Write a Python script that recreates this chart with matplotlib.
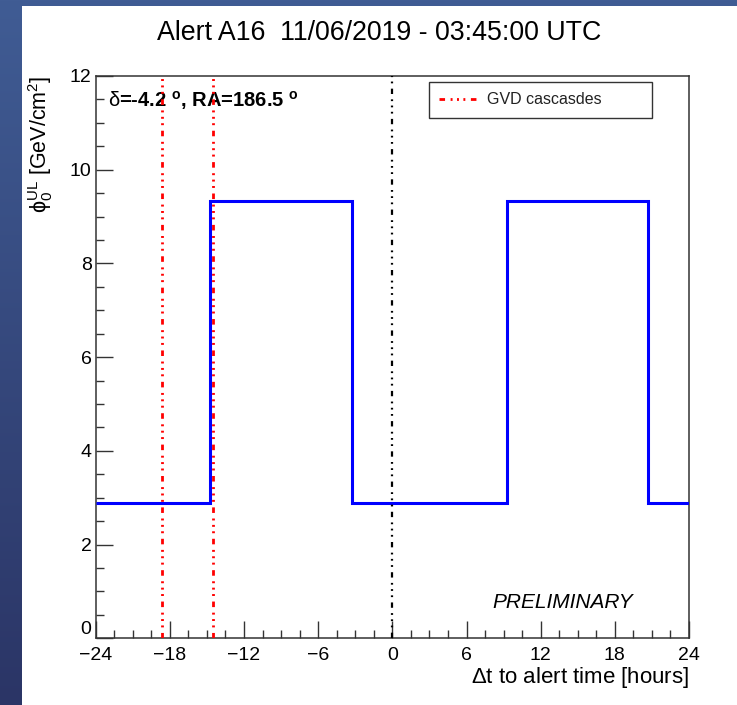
import matplotlib
matplotlib.use("Agg")
import matplotlib.pyplot as plt
from matplotlib.patches import Rectangle
import numpy as np

plt.rcParams['font.family'] = ['Liberation Sans', 'DejaVu Sans']
plt.rcParams['mathtext.fontset'] = 'custom'
plt.rcParams['mathtext.rm'] = 'Liberation Sans'
plt.rcParams['mathtext.it'] = 'Liberation Sans:italic'
plt.rcParams['mathtext.bf'] = 'Liberation Sans:bold'

# upper limit steps (hours relative to alert)
edges = [-24, -14.75, -3.25, 9.3, 20.65, 24]
flux_ul = [2.88, 9.34, 2.88, 9.34, 2.88]
# GVD cascade times
cascades = [-18.6, -14.55]
alert_t = 0

xticks = [-24, -18, -12, -6, 0, 6, 12, 18, 24]
yticks = [0, 2, 4, 6, 8, 10, 12]

W, H = 737, 705
fig = plt.figure(figsize=(W / 100, H / 100), dpi=100)

# blue frame background + white pad
bg = fig.add_axes([0, 0, 1, 1], zorder=-10)
bg.set_axis_off()
top = np.array([0x40, 0x5c, 0x94]) / 255
bot = np.array([0x2b, 0x35, 0x66]) / 255
t = np.linspace(0, 1, 256)[:, None]
grad = top[None, :] * (1 - t) + bot[None, :] * t
bg.imshow(grad[:, None, :], aspect='auto', extent=[0, 1, 0, 1])
bg.set_xlim(0, 1)
bg.set_ylim(0, 1)
bg.add_patch(Rectangle((22 / W, 0), 1 - 22 / W, 1 - 6 / H, color='white', lw=0))

ax = fig.add_axes([95.7 / W, 1 - 638.3 / H, (689 - 95.7) / W, (638.3 - 76) / H])
ax.set_xlim(-24, 24)
ax.set_ylim(0, 12)

ax.stairs(flux_ul, edges, baseline=None, color='#0000ff', lw=2.2, zorder=3)

dd = (2.0, 2.0, 0.7, 1.6, 0.7, 1.6, 0.7, 2.0)
for i, c in enumerate(cascades):
    ax.axvline(c, color='#ff0000', lw=2.0, dashes=dd,
               label='GVD cascasdes' if i == 0 else None, zorder=4)
ax.axvline(alert_t, color='black', lw=1.6, dashes=(2.4, 2.4, 0.8, 2.0, 0.8, 2.0, 0.8, 2.4), zorder=4)

ax.set_xticks(xticks)
ax.set_xticks(np.arange(-24, 24.1, 1.5), minor=True)
ax.set_yticks(yticks)
ax.set_yticks(np.arange(0, 12.1, 0.5), minor=True)
ax.tick_params(which='both', direction='in', top=False, right=False,
               color='#333333', width=1.0, labelsize=14, labelcolor='black')
ax.tick_params(which='major', length=12)
ax.tick_params(which='minor', length=6)
ax.tick_params(axis='x', pad=6)
ax.tick_params(axis='y', pad=3)
for s in ax.spines.values():
    s.set_color('#333333')
    s.set_linewidth(1.1)
# ROOT lifts the zero label off the corner
ax.get_yticklabels()[0].set_verticalalignment('bottom')

leg = ax.legend(loc='upper left', bbox_to_anchor=(0.5618, 0.9893 - 0.0779, 0.3758, 0.0779),
                mode='expand', borderaxespad=0, fancybox=False, framealpha=1,
                edgecolor='#333333', fontsize=11.5, handlelength=2.3,
                handletextpad=0.7, borderpad=0.65)
leg.get_frame().set_linewidth(1.0)
for txt in leg.get_texts():
    txt.set_color('#222222')

ax.text((108 - 95.7) / (689 - 95.7), (638.3 - 100) / 562.3,
        r'$\mathrm{\delta}$=-4.2 $^{\mathbf{o}}$, RA=186.5 $^{\mathbf{o}}$', transform=ax.transAxes,
        fontsize=14.5, fontweight='bold', ha='left', va='center')
ax.text((633 - 95.7) / (689 - 95.7), (638.3 - 602) / 562.3, 'PRELIMINARY',
        transform=ax.transAxes, fontsize=15, style='italic', ha='right', va='center')

fig.text(379 / W, 1 - 33 / H, 'Alert A16  11/06/2019 - 03:45:00 UTC',
         fontsize=19.3, ha='center', va='center')
fig.text(41 / W, 1 - 76 / H, r'$\mathrm{\phi}_{0}^{\mathrm{UL}}$ [GeV/cm$^{2}$]', fontsize=15.5,
         rotation=90, ha='center', va='top')
fig.text(689 / W, 1 - 678 / H, r'$\Delta$t to alert time [hours]', fontsize=16,
         ha='right', va='center')

fig.savefig('out.png', dpi=100)
